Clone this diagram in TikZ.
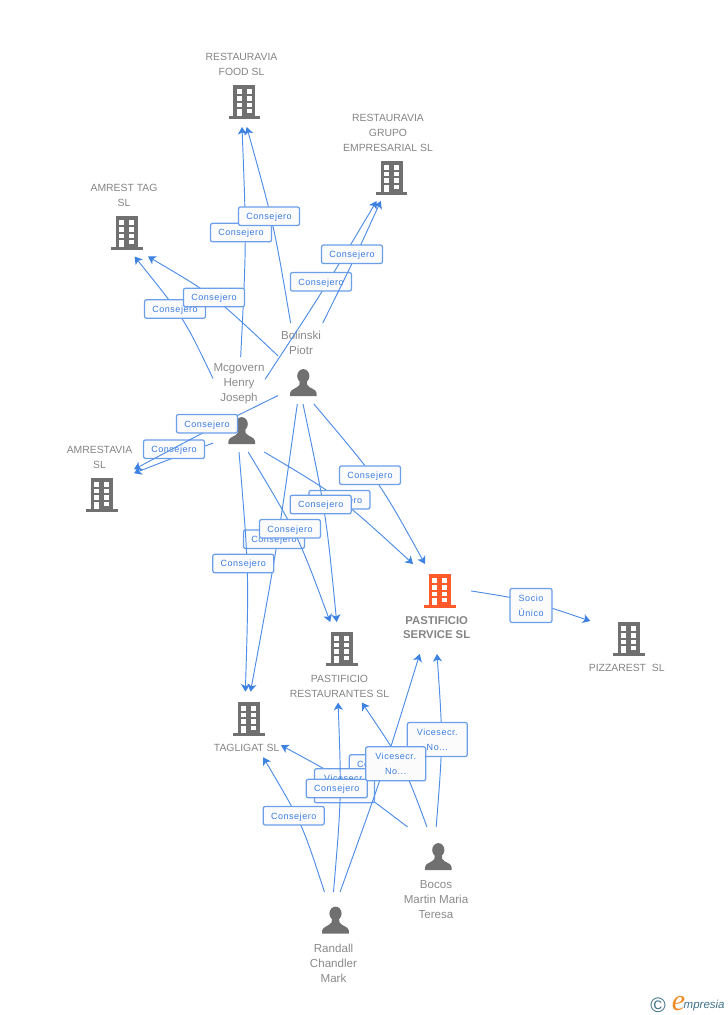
\documentclass[tikz,border=0pt]{standalone}
\usepackage{fontspec}
\setmainfont{Liberation Sans}
\newfontfamily\lblfont[LetterSpace=6]{Liberation Sans}
\newfontfamily\logoserif{Liberation Serif}
\usetikzlibrary{arrows.meta}
\definecolor{linkblue}{HTML}{4F8DE6}
\definecolor{tipblue}{HTML}{3D82E2}
\definecolor{lblblue}{HTML}{3B7DE0}
\definecolor{lblborder}{HTML}{6C9FEA}
\definecolor{icongray}{HTML}{707070}
\definecolor{txtgray}{HTML}{848484}
\definecolor{pertxt}{HTML}{8A8A8A}
\definecolor{hotorange}{HTML}{FF5A2B}
\definecolor{logoteal}{HTML}{3F7189}
\definecolor{logoorange}{HTML}{F08A24}
\tikzset{
  x=1pt,y=-1pt,
  hit/.style={rectangle,inner sep=0pt,outer sep=0pt},
  conn/.style={draw=linkblue,line width=0.95pt,-{Stealth[length=7.5pt,width=9pt,inset=2pt,color=tipblue]}},
  lblbase/.style={rectangle,rounded corners=2pt,draw=lblborder,line width=1.25pt,fill=white!97!gray,
    text=lblblue,inner sep=0pt,align=center,
    font=\lblfont\fontsize{9}{15}\selectfont},
  lbl/.style={lblbase,minimum width=61pt,minimum height=18.5pt,text height=8pt,text depth=1.4pt},
  lbltall/.style={lblbase,minimum width=60pt,minimum height=34pt},
  nametxt/.style={text=txtgray,align=center,inner sep=0pt,font=\fontsize{10.4}{15}\selectfont},
  pername/.style={nametxt,text=pertxt,font=\fontsize{11.6}{15}\selectfont},
  pics/bldg/.style={code={
    \fill[#1] (-11,-33.7) rectangle (11,-3);
    \fill[#1] (-15.7,-3) rectangle (15.7,0);
    \foreach \yy in {-29.7,-23,-16.3}{
      \fill[white] (-7.6,\yy) rectangle (-2.6,\yy+4.6);
      \fill[white] (2.4,\yy) rectangle (7.4,\yy+4.6);
    }
    \fill[white] (-7.6,-9.7) rectangle (-2.6,-3);
    \fill[white] (2.4,-9.7) rectangle (7.4,-5.7);
  }},
  pics/person/.style={code={
    \fill[icongray] (0,-20) ellipse [x radius=6.1,y radius=6.9];
    \fill[icongray] (-13.3,0) -- (-13.3,-3) .. controls (-13,-7) and (-6,-7.5) .. (-4,-11)
      -- (-3.5,-15) -- (3.5,-15) -- (4,-11) .. controls (6,-7.5) and (13,-7) .. (13.3,-3) -- (13.3,0) -- cycle;
  }},
}
\newcommand{\conn}[7][lbl]{%
  \draw[conn] (#2) .. controls (#3) .. (#4);
  \node[#1] (#5) at (#6) {#7};
}
\begin{document}
\begin{tikzpicture}
\useasboundingbox (0,0) rectangle (728,1015);
% names
\node[nametxt] (foodt) at (241.5,64.2) {RESTAURAVIA\\FOOD SL};
\node[nametxt] (amrestt) at (124,195.2) {AMREST TAG\\SL};
\node[nametxt] (grupot) at (388,132.7) {RESTAURAVIA\\GRUPO\\EMPRESARIAL SL};
\node[nametxt] (avt) at (99.5,457.2) {AMRESTAVIA\\SL};
\node[nametxt,font=\fontsize{11.3}{14.5}\selectfont\bfseries] (pst) at (436.7,627.5) {PASTIFICIO\\SERVICE SL};
\node[nametxt] (pizt) at (626.7,668.3) {PIZZAREST\ \ SL};
\node[nametxt] (prt) at (339.5,686) {PASTIFICIO\\RESTAURANTES SL};
\node[nametxt] (tagt) at (246.7,748.3) {TAGLIGAT SL};
\node[pername] (bolt) at (301,342.8) {Bolinski\\Piotr};
\node[pername] (mcgt) at (239,384) {Mcgovern\\Henry\\Joseph};
\node[pername] (boct) at (436,899.8) {Bocos\\Martin Maria\\Teresa};
\node[pername] (rant) at (333.5,963) {Randall\\Chandler\\Mark};
% icons
\pic at (244.3,119) {bldg=icongray};
\pic at (127,250) {bldg=icongray};
\pic at (391.5,194.7) {bldg=icongray};
\pic at (102,511.7) {bldg=icongray};
\pic at (440,608) {bldg=hotorange};
\pic at (629,656) {bldg=icongray};
\pic at (342,665.7) {bldg=icongray};
\pic at (249,735.7) {bldg=icongray};
\pic at (303.3,396) {person};
\pic at (241.7,444) {person};
\pic at (438.3,870) {person};
\pic at (335.5,933.5) {person};
% entity extents
\node[hit,minimum width=50pt,minimum height=81pt] (bol) at (303,363.5) {};
\node[hit,minimum width=52pt,minimum height=95pt] (mcg) at (239,404.5) {};
\node[hit,minimum width=56pt,minimum height=93pt] (ran) at (333.5,938.5) {};
\node[hit,minimum width=66pt,minimum height=94pt] (boc) at (437,874) {};
\node[hit,minimum width=75pt,minimum height=77pt] (food) at (242,88.5) {};
\node[hit,minimum width=70pt,minimum height=76.5pt] (amrest) at (125,218.25) {};
\node[hit,minimum width=88pt,minimum height=91pt] (grupo) at (388,155.5) {};
\node[hit,minimum width=69pt,minimum height=72pt] (av) at (99.5,478) {};
\node[hit,minimum width=68pt,minimum height=90pt] (ps) at (437,609) {};
\node[hit,minimum width=99pt,minimum height=80.5pt] (pr) at (339.5,662.25) {};
\node[hit,minimum width=69pt,minimum height=65.6pt] (tag) at (246.5,724.5) {};
\node[hit,minimum width=75pt,minimum height=52pt] (piz) at (627.5,647) {};
% connectors with their labels
\conn{mcg.88.8}{246.5,242}{food.270}{l1}{241,232.6}{Consejero}
\conn{bol.107.8}{274,225}{food.277}{l2}{269,216.2}{Consejero}
\conn{mcg.135.6}{184,318}{amrest.284.7}{l3}{175,309}{Consejero}
\conn{bol.163.3}{213.5,295}{amrest.301}{l4}{214,297.5}{Consejero}
\conn{mcg.44.4}{323,291}{grupo.256.8}{l5}{321,281.8}{Consejero}
\conn{bol.64.1}{352,264}{grupo.261.3}{l6}{352,254.3}{Consejero}
\conn{mcg.236.2}{173,458}{av.8.2}{l7}{174,449.2}{Consejero}
\conn{bol.232.2}{206,431}{av.14.6}{l8}{207,423.7}{Consejero}
\conn{bol.285.2}{379,481}{ps.105}{l9}{370,475.2}{Consejero}
\conn{mcg.298}{340,497}{ps.118.4}{l10}{339.5,499.7}{Consejero}
\conn{bol.270.4}{326,513}{pr.94}{l11}{320.7,504.5}{Consejero}
\conn{bol.262.5}{277,548}{tag.83.9}{l12}{274,539.2}{Consejero}
\conn{mcg.281.1}{298,535}{pr.103.3}{l13}{290,528.8}{Consejero}
\conn{mcg.270.4}{249,572}{tag.92.6}{l14}{243.3,563.5}{Consejero}
\conn[lblbase,minimum width=42pt,minimum height=34pt]{ps.28.3}{528,600}{piz.145}{l15}{531,605.5}{Socio\\Único}
\conn{ran.101.2}{302,823}{tag.297.1}{l16}{293.7,815.7}{Consejero}
\conn[lbltall]{boc.91.2}{443,741}{ps.270}{l17}{437.3,739.5}{Vicesecr.\\No...}
\conn{boc.102.4}{404,765}{pr.299.5}{l18}{379.8,764}{Consejero}
\conn[lbltall]{boc.122.8}{347,781}{tag.329.3}{l19}{344.5,785.8}{Vicesecr.\\No...}
\conn{ran.90.2}{341.5,797}{pr.268.3}{l20}{336.8,788.5}{Consejero}
\conn[lbltall]{ran.82.9}{383,773}{ps.249}{l21}{395.7,763.8}{Vicesecr.\\No...}
% logo
\node[text=logoteal,inner sep=0pt,font=\fontsize{21}{21}\selectfont] (logoc) at (658,1005) {©};
\node[text=logoorange,inner sep=0pt,font=\logoserif\itshape\fontsize{30}{30}\selectfont] (logoe) at (678.5,1003.5) {e};
\node[text=logoteal,inner sep=0pt,anchor=base west,font=\itshape\fontsize{11.5}{12}\selectfont] (logom) at (683.5,1008.5) {mpresia};
\end{tikzpicture}
\end{document}
